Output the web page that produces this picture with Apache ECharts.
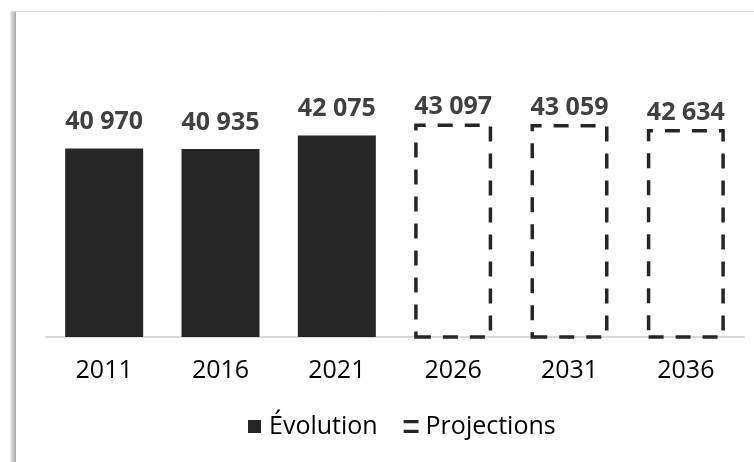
<!DOCTYPE html>
<html>
<head>
<meta charset="utf-8">
<script src="https://cdn.jsdelivr.net/npm/echarts@6/dist/echarts.min.js"></script>
<style>
html,body{margin:0;padding:0;background:#fff;}
#c{width:754px;height:462px;}
</style>
</head>
<body>
<div id="c"></div>
<script>
var categories = ['2011', '2016', '2021', '2026', '2031', '2036'];
var evolution = [40970, 40935, 42075, null, null, null];
var projections = [null, null, null, 43097, 43059, 42634];
var seriesNames = ['Évolution', 'Projections'];

function fmt(p) {
  return String(p.value).replace(/\B(?=(\d{3})+(?!\d))/g, ' ');
}

var chart = echarts.init(document.getElementById('c'), null, {renderer: 'canvas'});
chart.setOption({
  animation: false,
  backgroundColor: '#ffffff',
  graphic: [
    {type: 'rect', z: -10, silent: true,
     shape: {x: 10, y: 11, width: 6, height: 460},
     style: {fill: new echarts.graphic.LinearGradient(0, 0, 1, 0, [
       {offset: 0, color: '#f0f0f0'}, {offset: 1, color: '#a6a6a6'}])}},
    {type: 'line', z: -10, silent: true,
     shape: {x1: 12, y1: 11.5, x2: 760, y2: 11.5},
     style: {stroke: '#d9d9d9', lineWidth: 1}}
  ],
  grid: {left: 46, right: 10, top: 101, bottom: 125, containLabel: false},
  xAxis: {
    type: 'category',
    data: categories,
    axisLine: {show: true, lineStyle: {color: '#d9d9d9', width: 2}},
    axisTick: {show: false},
    axisLabel: {color: '#000', fontFamily: 'Open Sans', fontSize: 25, margin: 21}
  },
  yAxis: {
    type: 'value', min: 25000, max: 45000, show: false,
    splitLine: {show: false}
  },
  legend: {
    top: 409, left: 243,
    itemGap: 26, itemWidth: 15, itemHeight: 13,
    textStyle: {color: '#000', fontFamily: 'Open Sans', fontSize: 25, padding: [0, 0, 0, 2]},
    data: [
      {name: seriesNames[0], icon: 'path://M0,0H12V12H0Z', itemStyle: {color: '#262626'}},
      {name: seriesNames[1], icon: 'path://M0,0H16V3.5H0Z M0,10.5H16V14H0Z',
       itemStyle: {color: '#262626', borderWidth: 0, borderType: 'solid'}}
    ]
  },
  series: [
    {
      name: seriesNames[0], type: 'bar', data: evolution,
      barWidth: 78, barGap: '-100%',
      itemStyle: {color: '#262626'},
      label: {show: true, position: 'top', distance: 14, formatter: fmt,
        color: '#404040', fontFamily: 'Open Sans', fontWeight: 'bold', fontSize: 25}
    },
    {
      name: seriesNames[1], type: 'bar', data: projections,
      barWidth: 78, barGap: '-100%',
      itemStyle: {color: 'rgba(255,255,255,0)', borderColor: '#262626', borderWidth: 3.5,
        borderType: [15, 12]},
      label: {show: true, position: 'top', distance: 4, formatter: fmt,
        color: '#404040', fontFamily: 'Open Sans', fontWeight: 'bold', fontSize: 25}
    }
  ]
});
</script>
</body>
</html>
